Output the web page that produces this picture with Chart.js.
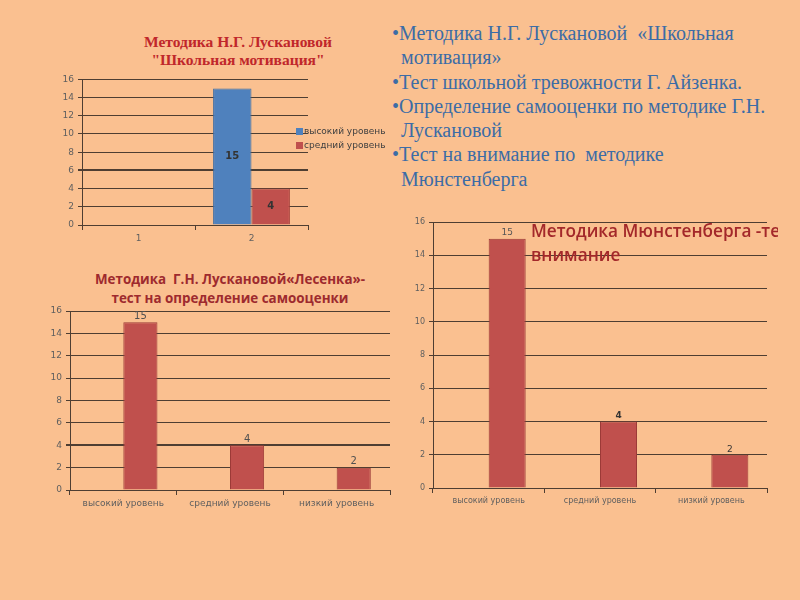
<!DOCTYPE html>
<html>
<head>
<meta charset="utf-8">
<script src="https://cdn.jsdelivr.net/npm/chart.js@4.4.1/dist/chart.umd.min.js"></script>
<style>
    body { margin: 0; width: 800px; height: 600px; background: #FAC090; position: relative; overflow: hidden; }
    canvas { position: absolute; }
    .title { position: absolute; color: #A52224; font-weight: bold; white-space: nowrap; }
    .serif { font-family: "Liberation Serif", "DejaVu Serif", serif; }
    .sans { font-family: "Open Sans", "DejaVu Sans", sans-serif; }
    #list { position: absolute; left: 392px; top: 21px; width: 385px; font-family: "Liberation Serif", serif; font-size: 20px; line-height: 24.3px; color: #3C6CA6; }
    #list div { padding-left: 9px; text-indent: -9px; }
    #legend1 { position: absolute; left: 296px; top: 124px; font: 9px "DejaVu Sans", sans-serif; color: #404040; line-height: 14px; }
    #legend1 span { display: inline-block; width: 7px; height: 7px; margin-right: 1px; vertical-align: -1px; }
</style>
</head>
<body>

<div class="title serif" style="left:90px; top:33px; width:296px; text-align:center; font-size:15.5px; line-height:18px; color:#C0272B;">Методика Н.Г. Лускановой<br>"Школьная мотивация"</div>
<canvas id="chart1" style="left:30px; top:70px;" width="290" height="185"></canvas>
<div id="legend1">
    <div><span style="background:#4F81BD"></span>высокий уровень</div>
    <div><span style="background:#C0504D"></span>средний уровень</div>
</div>

<div id="list">
    <div>•Методика Н.Г. Лускановой&nbsp; «Школьная мотивация»</div>
    <div>•Тест школьной тревожности Г. Айзенка.</div>
    <div>•Определение самооценки по методике Г.Н. Лускановой</div>
    <div>•Тест на внимание по&nbsp; методике Мюнстенберга</div>
</div>

<div class="title sans" style="left:50px; top:270px; width:360px; text-align:center; font-size:13.4px; line-height:19px; color:#9E2A2E;">Методика&nbsp; Г.Н. Лускановой«Лесенка»-<br>тест на определение самооценки</div>
<canvas id="chart2" style="left:20px; top:300px;" width="375" height="215"></canvas>

<canvas id="chart3" style="left:395px; top:210px;" width="380" height="305"></canvas>
<div class="title sans" style="left:531px; top:219px; width:247px; overflow:hidden; font-size:17.2px; font-weight:600; line-height:24px; color:#A3282A;">Методика Мюнстенберга -тест на<br>внимание</div>

<script>
// DATA
const motivationCategories = ["1", "2"];
const motivationHigh = [null, 15];
const motivationMid = [null, 4];

const levelCategories = ["высокий уровень", "средний уровень", "низкий уровень"];
const emptySeries = [null, null, null];
const ladderValues = [15, 4, 2];
const attentionValues = [15, 4, 2];

const yTicks = [0, 2, 4, 6, 8, 10, 12, 14, 16];

const gridColor = "#4E3E32";
const tickColor = "#5F5F5F";

// draws value labels on the bars
const valueLabels = {
    id: "valueLabels",
    afterDatasetsDraw(chart, args, opts) {
        const ctx = chart.ctx;
        chart.data.datasets.forEach((ds, di) => {
            chart.getDatasetMeta(di).data.forEach((bar, i) => {
                const v = ds.data[i];
                if (v === null || v === undefined) return;
                ctx.save();
                const style = (opts.styles && opts.styles[i]) || {};
                ctx.font = style.font || opts.font || "10px DejaVu Sans";
                ctx.fillStyle = style.color || opts.color || "#404040";
                ctx.textAlign = "center";
                if (opts.inside) {
                    ctx.textBaseline = "middle";
                    ctx.fillText(v, bar.x, (bar.y + bar.base) / 2);
                } else {
                    ctx.textBaseline = "bottom";
                    ctx.fillText(v, bar.x, bar.y - 1);
                }
                ctx.restore();
            });
        });
    }
};

function makeScales(yWidth, xHeight, tickSize, thick) {
    return {
        x: {
            afterFit: s => { s.height = xHeight; },
            grid: { offset: true, drawOnChartArea: false, drawTicks: true, tickLength: 5, color: gridColor },
            border: { color: gridColor },
            ticks: { color: tickColor, font: { size: tickSize, family: "DejaVu Sans" }, padding: 3 }
        },
        y: {
            min: 0, max: 16,
            afterFit: s => { s.width = yWidth; },
            afterBuildTicks: s => { s.ticks = yTicks.map(v => ({ value: v })); },
            grid: {
                color: gridColor,
                tickLength: 4,
                lineWidth: c => (thick.includes(c.tick.value) ? 2 : 1)
            },
            border: { color: gridColor },
            ticks: { color: tickColor, font: { size: tickSize, family: "DejaVu Sans" }, padding: 4 }
        }
    };
}

// CHART 1
new Chart(document.getElementById("chart1"), {
    type: "bar",
    data: {
        labels: motivationCategories,
        datasets: [
            { label: "высокий уровень", data: motivationHigh, backgroundColor: "#4F81BD", borderColor: "#3F6DA3", borderWidth: 1 },
            { label: "средний уровень", data: motivationMid, backgroundColor: "#C0504D", borderColor: "#A6403D", borderWidth: 1 }
        ]
    },
    options: {
        responsive: false,
        animation: false,
        layout: { padding: { left: 0, top: 8, right: 12, bottom: 0 } },
        datasets: { bar: { categoryPercentage: 0.68, barPercentage: 1 } },
        plugins: {
            legend: { display: false },
            tooltip: { enabled: false },
            valueLabels: { inside: true, font: "bold 10px DejaVu Sans", color: "#333" }
        },
        scales: makeScales(52, 30, 9, [6])
    },
    plugins: [valueLabels]
});

// CHART 2 (first series is empty, values sit in the second slot)
new Chart(document.getElementById("chart2"), {
    type: "bar",
    data: {
        labels: levelCategories,
        datasets: [
            { data: emptySeries, backgroundColor: "#4F81BD" },
            { data: ladderValues, backgroundColor: "#C0504D", borderColor: "#9C3A37", borderWidth: 1 }
        ]
    },
    options: {
        responsive: false,
        animation: false,
        layout: { padding: { left: 0, top: 11, right: 5, bottom: 0 } },
        datasets: { bar: { categoryPercentage: 0.64, barPercentage: 1 } },
        plugins: {
            legend: { display: false },
            tooltip: { enabled: false },
            valueLabels: { font: "10px DejaVu Sans", color: "#505050" }
        },
        scales: makeScales(50, 25, 9, [4])
    },
    plugins: [valueLabels]
});

// CHART 3
new Chart(document.getElementById("chart3"), {
    type: "bar",
    data: {
        labels: levelCategories,
        datasets: [
            { data: emptySeries, backgroundColor: "#4F81BD" },
            { data: attentionValues, backgroundColor: "#C0504D", borderColor: "#9C3A37", borderWidth: 1 }
        ]
    },
    options: {
        responsive: false,
        animation: false,
        layout: { padding: { left: 0, top: 12, right: 8, bottom: 0 } },
        datasets: { bar: { categoryPercentage: 0.665, barPercentage: 1 } },
        plugins: {
            legend: { display: false },
            tooltip: { enabled: false },
            valueLabels: {
                font: "9px DejaVu Sans",
                color: "#555",
                styles: [{}, { font: "bold 9px DejaVu Sans", color: "#333" }, { color: "#333" }]
            }
        },
        scales: makeScales(38, 27, 8, [])
    },
    plugins: [valueLabels]
});
</script>
</body>
</html>
